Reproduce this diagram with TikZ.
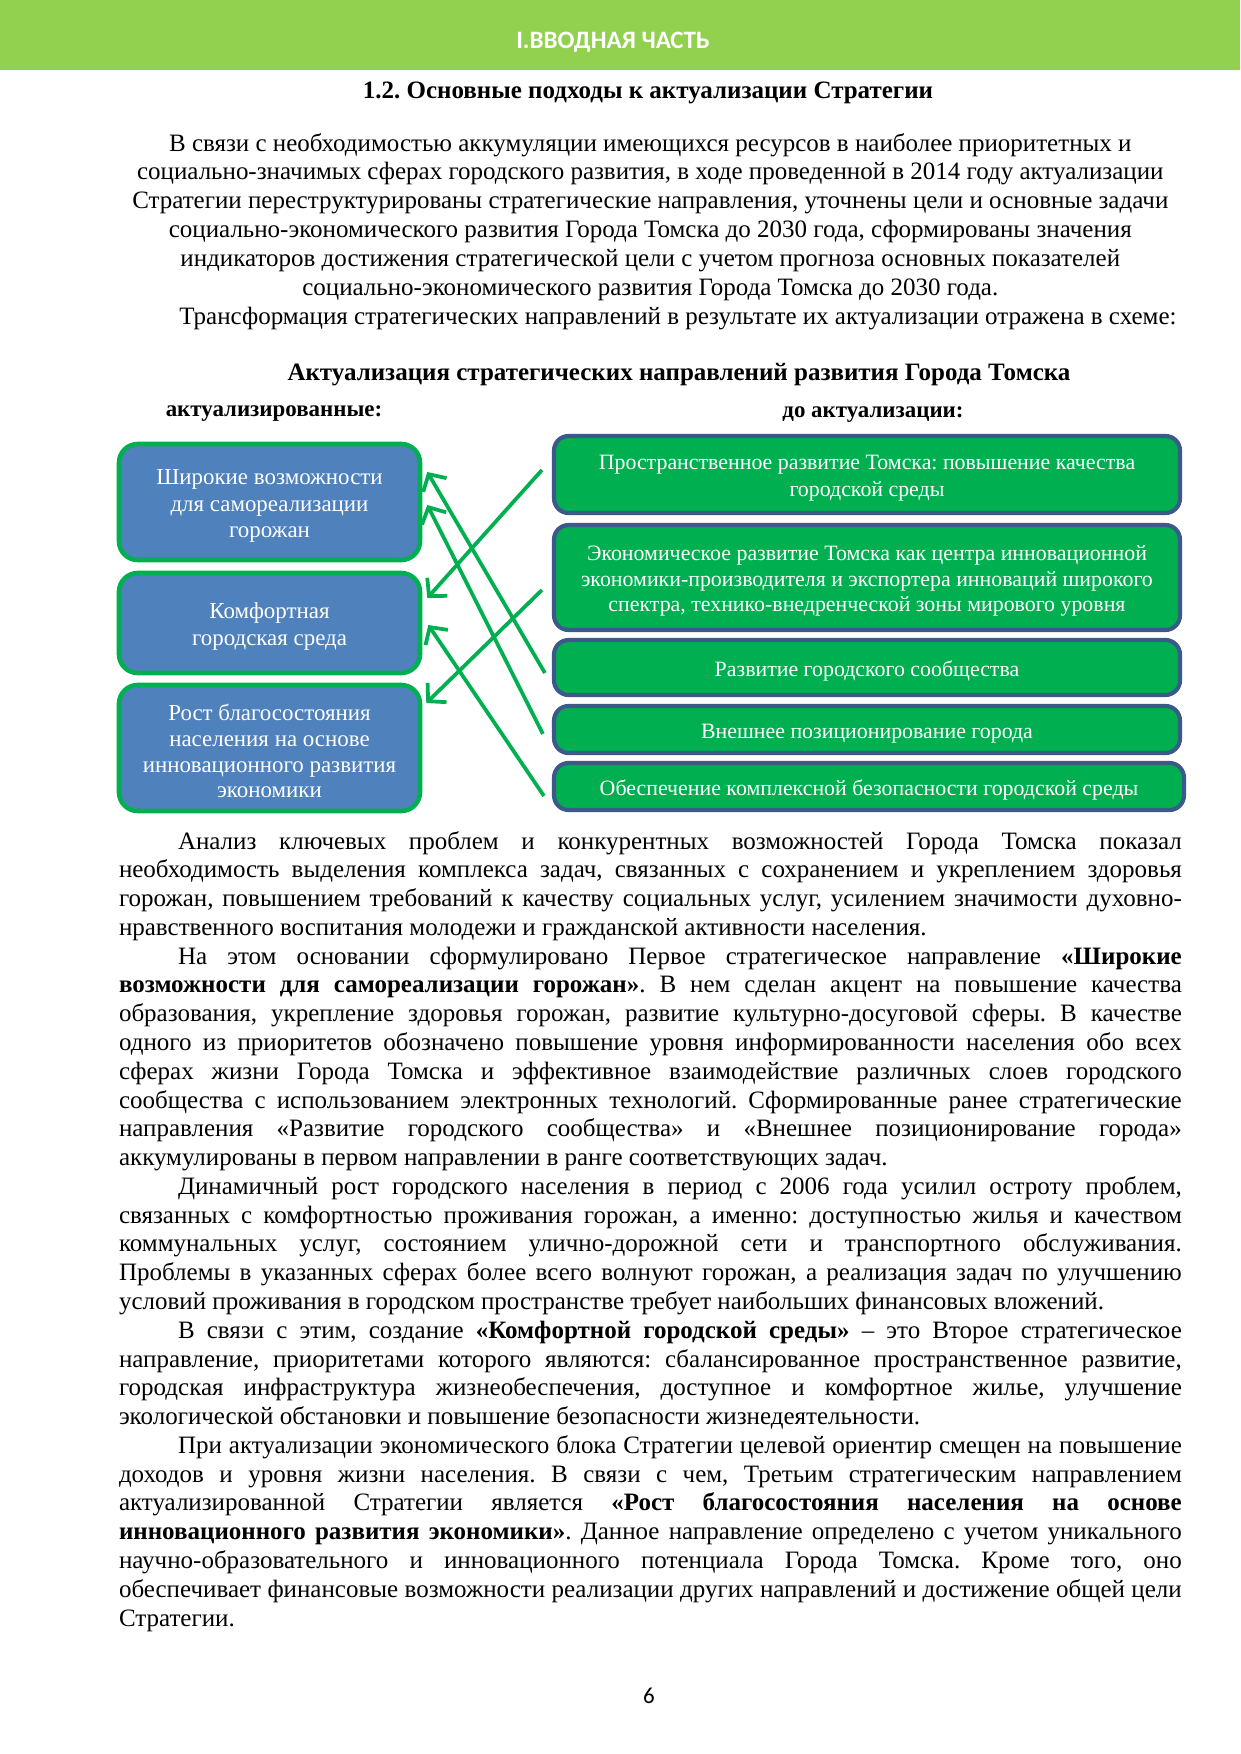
\documentclass[tikz,border=0pt]{standalone}
\usepackage{fontspec}
\setmainfont{Liberation Serif}
\newfontfamily\hdrfont{Carlito}
\usetikzlibrary{arrows.meta,calc}
\definecolor{hdrgreen}{HTML}{92D050}
\definecolor{boxgreen}{HTML}{00B050}
\definecolor{boxblue}{HTML}{4F81BD}
\definecolor{rborder}{HTML}{3B5A8A}
\frenchspacing
\newcommand\myjl[3]{\node[txt,anchor=base west] (#1) at (118.6,#2) {\makebox[510.2pt][s]{#3}};}
\newcommand\myjli[3]{\node[txt,anchor=base west] (#1) at (177.6,#2) {\makebox[481.9pt][s]{#3}};}
\newcommand\mypl[3]{\node[txt,anchor=base west] (#1) at (118.6,#2) {#3};}
\newcommand\mycl[3]{\node[txt,anchor=base] (#1) at (650.3,#2) {#3};}
\newcommand\topstrut{\rule{0pt}{1em}}
\begin{document}
\begin{tikzpicture}[x=0.48006pt,y=-0.48006pt,
  txt/.style={inner sep=0pt,font=\fontsize{12}{13.8}\selectfont\frenchspacing},
  lbox/.style={draw=boxgreen,line width=2.2pt,fill=boxblue,rounded corners=9pt,
    text=white,align=center,inner sep=0pt,minimum width=144.5pt,
    font=\fontsize{11}{12.8}\selectfont},
  rbox/.style={draw=rborder,line width=2pt,fill=boxgreen,rounded corners=7pt,
    text=white,align=center,inner sep=0pt,minimum width=300.5pt,
    font=\fontsize{10.5}{12.6}\selectfont},
  oneline/.style={execute at begin node={\topstrut}},
  conn/.style={draw=boxgreen,line width=1.8pt,-{Straight Barb[length=6pt,width=13pt]}}]
\useasboundingbox (0,0) rectangle (1240,1754);
\fill[white] (0,0) rectangle (1240,1754);
% header
\fill[hdrgreen] (0,0) rectangle (1240,70);
\node[inner sep=0pt,anchor=base,text=white,font=\hdrfont\bfseries\fontsize{12}{14}\selectfont] (hdr) at (613,49) {I.ВВОДНАЯ ЧАСТЬ};
\node[txt,anchor=base,font=\fontsize{12}{13.8}\selectfont\bfseries] (title) at (648,98.5) {1.2. Основные подходы к актуализации Стратегии};
% intro paragraph
\mycl{i1}{151.2}{В связи с необходимостью аккумуляции имеющихся ресурсов в наиболее приоритетных и}
\mycl{i2}{180.0}{социально-значимых сферах городского развития, в ходе проведенной в 2014 году актуализации}
\mycl{i3}{208.9}{Стратегии переструктурированы стратегические направления, уточнены цели и основные задачи}
\mycl{i4}{237.8}{социально-экономического развития Города Томска до 2030 года, сформированы значения}
\mycl{i5}{266.6}{индикаторов достижения стратегической цели с учетом прогноза основных показателей}
\mycl{i6}{295.5}{социально-экономического развития Города Томска до 2030 года.}
\node[txt,anchor=base west] (i7) at (179,324.3) {Трансформация стратегических направлений в результате их актуализации отражена в схеме:};
% diagram
\node[txt,anchor=base,font=\fontsize{12}{13.8}\selectfont\bfseries] (dtitle) at (679,381) {Актуализация стратегических направлений развития Города Томска};
\node[txt,anchor=base,font=\fontsize{11}{13}\selectfont\bfseries] (lhead) at (274,416.5) {актуализированные:};
\node[txt,anchor=base,font=\fontsize{11}{13}\selectfont\bfseries] (rhead) at (873,418) {до актуализации:};
\node[lbox,minimum height=55.7pt] (l1) at (269.5,502) {\topstrut Широкие возможности\\для самореализации\\горожан};
\node[lbox,minimum height=48pt] (l2) at (269.5,623) {\topstrut Комфортная\\городская среда};
\node[lbox,minimum height=60.5pt,font=\fontsize{11}{12.3}\selectfont] (l3) at (269.5,748) {\topstrut Рост благосостояния\\населения на основе\\инновационного развития\\экономики};
\node[rbox,minimum height=37pt] (rA) at (867,474.5) {\topstrut Пространственное развитие Томска: повышение качества\\городской среды};
\node[rbox,minimum height=50.4pt,font=\fontsize{10.5}{12.3}\selectfont] (rB) at (867,577.5) {\topstrut Экономическое развитие Томска как центра инновационной\\экономики-производителя и экспортера инноваций широкого\\спектра, технико-внедренческой зоны мирового уровня};
\node[rbox,oneline,minimum height=26.4pt] (rC) at (867,667.5) {Развитие городского сообщества};
\node[rbox,oneline,minimum height=22.6pt] (rD) at (867,729.5) {Внешнее позиционирование города};
\node[rbox,oneline,minimum height=22.6pt,minimum width=302.4pt] (rE) at (869,786.5) {Обеспечение комплексной безопасности городской среды};
\draw[conn] ($(rA.west)+(-10,-4.5)$) -- ($(l2.east)+(5,-25)$);
\draw[conn] ($(rB.west)+(-10,12.5)$) -- ($(l3.east)+(4,-45)$);
\draw[conn] ($(rC.west)+(-7,5.5)$) -- ($(l1.east)+(5,-30)$);
\draw[conn] ($(rD.west)+(-9,4.5)$) -- ($(l1.east)+(5,3)$);
\draw[conn] ($(rE.west)+(-8,9.5)$) -- ($(l2.east)+(6,2)$);
% body
\myjli{b0}{849.0}{Анализ ключевых проблем и конкурентных возможностей Города Томска показал}
\myjl{b1}{877.8}{необходимость выделения комплекса задач, связанных с сохранением и укреплением здоровья}
\myjl{b2}{906.6}{горожан, повышением требований к качеству социальных услуг, усилением значимости духовно-}
\mypl{b3}{935.3}{нравственного воспитания молодежи и гражданской активности населения.}
\myjli{b4}{964.1}{На этом основании сформулировано Первое стратегическое направление \textbf{«Широкие}}
\myjl{b5}{992.9}{\textbf{возможности для самореализации горожан»}. В нем сделан акцент на повышение качества}
\myjl{b6}{1021.7}{образования, укрепление здоровья горожан, развитие культурно-досуговой сферы. В качестве}
\myjl{b7}{1050.5}{одного из приоритетов обозначено повышение уровня информированности населения обо всех}
\myjl{b8}{1079.2}{сферах жизни Города Томска и эффективное взаимодействие различных слоев городского}
\myjl{b9}{1108.0}{сообщества с использованием электронных технологий. Сформированные ранее стратегические}
\myjl{b10}{1136.8}{направления «Развитие городского сообщества» и «Внешнее позиционирование города»}
\mypl{b11}{1165.6}{аккумулированы в первом направлении в ранге соответствующих задач.}
\myjli{b12}{1194.4}{Динамичный рост городского населения в период с 2006 года усилил остроту проблем,}
\myjl{b13}{1223.1}{связанных с комфортностью проживания горожан, а именно: доступностью жилья и качеством}
\myjl{b14}{1251.9}{коммунальных услуг, состоянием улично-дорожной сети и транспортного обслуживания.}
\myjl{b15}{1280.7}{Проблемы в указанных сферах более всего волнуют горожан, а реализация задач по улучшению}
\mypl{b16}{1309.5}{условий проживания в городском пространстве требует наибольших финансовых вложений.}
\myjli{b17}{1338.3}{В связи с этим, создание \textbf{«Комфортной городской среды»} – это Второе стратегическое}
\myjl{b18}{1367.0}{направление, приоритетами которого являются: сбалансированное пространственное развитие,}
\myjl{b19}{1395.8}{городская инфраструктура жизнеобеспечения, доступное и комфортное жилье, улучшение}
\mypl{b20}{1424.6}{экологической обстановки и повышение безопасности жизнедеятельности.}
\myjli{b21}{1453.4}{При актуализации экономического блока Стратегии целевой ориентир смещен на повышение}
\myjl{b22}{1482.2}{доходов и уровня жизни населения. В связи с чем, Третьим стратегическим направлением}
\myjl{b23}{1510.9}{актуализированной Стратегии является \textbf{«Рост благосостояния населения на основе}}
\myjl{b24}{1539.7}{\textbf{инновационного развития экономики»}. Данное направление определено с учетом уникального}
\myjl{b25}{1568.5}{научно-образовательного и инновационного потенциала Города Томска. Кроме того, оно}
\myjl{b26}{1597.3}{обеспечивает финансовые возможности реализации других направлений и достижение общей цели}
\mypl{b27}{1626.1}{Стратегии.}
\node[inner sep=0pt,anchor=base,font=\hdrfont\fontsize{11}{13}\selectfont] (pnum) at (649,1703) {6};
\end{tikzpicture}
\end{document}
